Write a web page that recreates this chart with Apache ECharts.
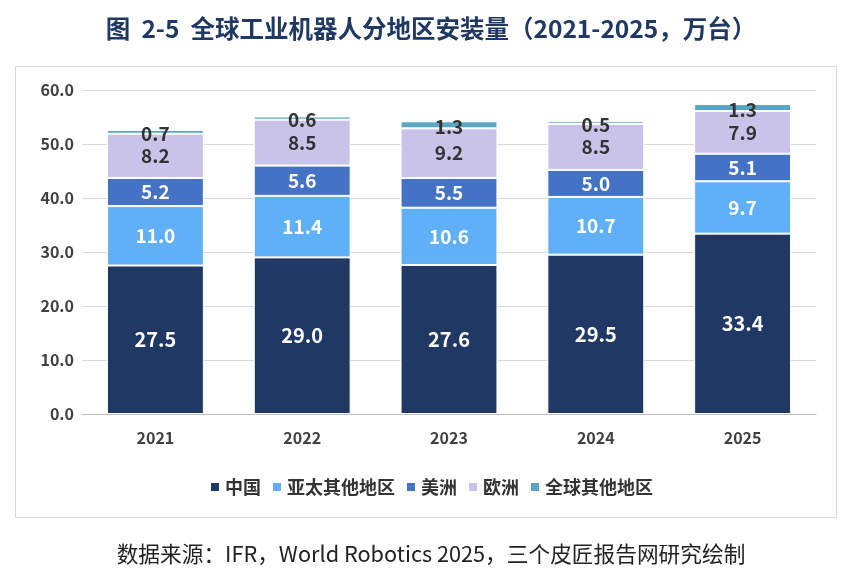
<!DOCTYPE html>
<html><head><meta charset="utf-8">
<script src="https://cdn.jsdelivr.net/npm/echarts@6/dist/echarts.min.js"></script>
<style>body{margin:0;background:#fff}#c{width:862px;height:581px}
#box{position:absolute;left:15px;top:66px;width:820px;height:450px;border:1px solid #d9d9d9}</style>
</head><body><div id="box"></div><div id="c" style="position:absolute;left:0;top:0"></div>
<script>
const years=['2021','2022','2023','2024','2025'];
const china=[27.5,29.0,27.6,29.5,33.4];
const apac=[11.0,11.4,10.6,10.7,9.7];
const americas=[5.2,5.6,5.5,5.0,5.1];
const europe=[8.2,8.5,9.2,8.5,7.9];
const others=[0.7,0.6,1.3,0.5,1.3];
const names=['中国','亚太其他地区','美洲','欧洲','全球其他地区'];
const colors=['#1f3864','#5fb0f7','#4472c4','#c9c3ea','#5aa6c4'];
const textCol=['#fff','#fff','#fff','#333','#333'];
const font='"Microsoft YaHei","Noto Sans CJK SC",sans-serif';
const data=[china,apac,americas,europe,others];
const chart=echarts.init(document.getElementById('c'));
chart.setOption({
 title:{text:'图  2-5  全球工业机器人分地区安装量（2021-2025，万台）',left:'center',top:11,textStyle:{color:'#1f3864',fontSize:24.5,fontWeight:'bold',fontFamily:font}},
 legend:{bottom:80,itemWidth:10,itemHeight:10,itemGap:10,icon:'rect',textStyle:{fontSize:18,fontWeight:'bold',color:'#333',fontFamily:font},data:names},
 graphic:[{type:'text',left:'center',top:543,style:{text:'数据来源：IFR，World Robotics 2025，三个皮匠报告网研究绘制',fontSize:21.7,fill:'#222',fontFamily:font}}],
 grid:{left:82,right:46,top:90,bottom:167},
 xAxis:{type:'category',data:years,axisTick:{show:false},axisLine:{lineStyle:{color:'#bfbfbf'}},axisLabel:{fontSize:16,fontWeight:'bold',color:'#404040',margin:16,fontFamily:font}},
 yAxis:{type:'value',min:0,max:60,interval:10,axisLabel:{formatter:v=>v.toFixed(1),fontSize:16,fontWeight:'bold',color:'#404040',fontFamily:font},splitLine:{lineStyle:{color:'#d9d9d9'}}},
 series:data.map((d,i)=>({name:names[i],type:'bar',stack:'s',barWidth:'66%',data:d,itemStyle:{color:colors[i],borderColor:'#fff',borderWidth:1},
  label:{show:true,position:'inside',formatter:p=>p.value.toFixed(1),color:textCol[i],fontSize:i===0?20:19,fontWeight:'bold',fontFamily:font,offset:i===4?[0,2]:[0,0]}}))
});
</script></body></html>
